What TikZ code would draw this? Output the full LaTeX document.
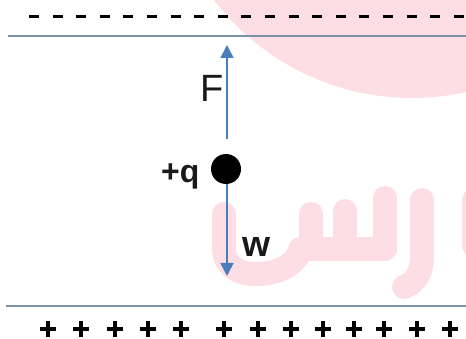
\documentclass[tikz,border=0pt]{standalone}
\usepackage{fontspec}
\setmainfont{Liberation Sans}
\usetikzlibrary{arrows.meta}
\definecolor{wm}{RGB}{253,222,228}
\definecolor{plate}{RGB}{125,145,165}
\definecolor{vec}{RGB}{74,126,187}
\definecolor{ink}{RGB}{25,25,25}
\begin{document}
\begin{tikzpicture}[x=1pt,y=-1pt,
  platestyle/.style={draw=plate,line width=1.8pt},
  wmstroke/.style={draw=wm,line width=24pt,line cap=round},
  vecstyle/.style={draw=vec,line width=1.6pt,-{Triangle[width=13pt,length=13pt]}},
  plussign/.style={line width=3.3pt},
  lab/.style={inner sep=0pt,anchor=base west,text=ink}]
\useasboundingbox (0,0) rectangle (466,339);
% watermark
\begin{scope}
\clip (0,0) rectangle (466,339);
\fill[wm] (412,-151) circle[radius=249pt];
\draw[wmstroke] (224,214) -- (224,248) .. controls (224,266) and (238,274) .. (256,274) .. controls (274,274) and (292,268) .. (300,252);
\draw[wmstroke] (300,249) -- (385,249);
\draw[wmstroke] (311,214) -- (311,249);
\draw[wmstroke] (345,211) -- (345,249);
\draw[wmstroke] (385,198) -- (385,249);
\draw[wmstroke] (422,200) -- (422,255) .. controls (422,273) and (416,282) .. (404,287);
\draw[wmstroke] (474,200) -- (474,245);
\end{scope}
% plates
\draw[line width=3pt,dash pattern=on 10pt off 13.6pt] (29,17) -- (466,17);
\draw[platestyle] (8,36) -- (466,36);
\draw[platestyle] (6,306) -- (466,306);
\foreach \x in {48,81,115,148,181,224,258,291,323,354,384,417,450}
  \draw[plussign] (\x-8,329) -- (\x+8,329) (\x,321) -- (\x,337);
% charge and forces
\node[circle,fill=black,minimum size=30pt,inner sep=0pt] (q) at (226,169) {};
\coordinate (fstart) at (227,139);
\coordinate (ftip) at (227,45);
\coordinate (wstart) at (227,184);
\coordinate (wtip) at (227,276);
\draw[vecstyle] (fstart) -- (ftip);
\draw[vecstyle] (wstart) -- (wtip);
\node[lab,font=\fontsize{38}{38}\selectfont] (F) at (200,102) {F};
\node[lab,font=\fontsize{32}{32}\selectfont\bfseries] (ql) at (161,183) {+q};
\node[lab,font=\fontsize{36}{36}\selectfont\bfseries] (w) at (242,257) {w};
\end{tikzpicture}
\end{document}
